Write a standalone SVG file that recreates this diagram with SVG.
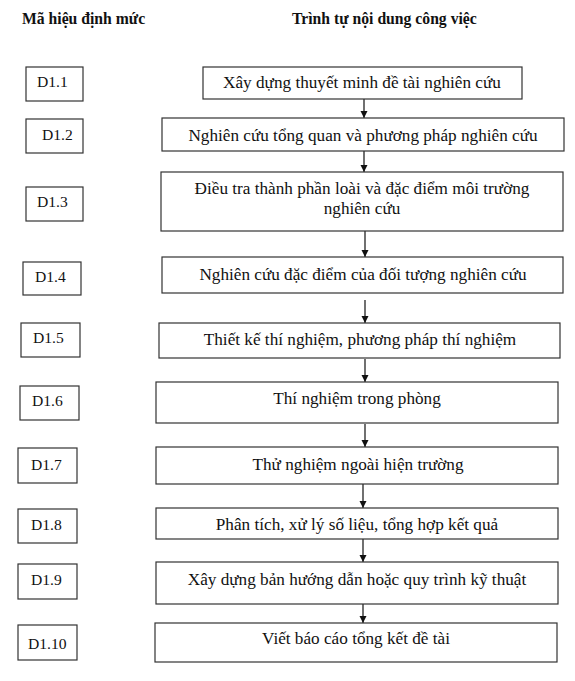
<svg xmlns="http://www.w3.org/2000/svg" width="575" height="681" viewBox="0 0 575 681">
<style>
.bx{fill:#fff;stroke:#333;stroke-width:1.2}
.t{font-family:"Liberation Serif","Times New Roman",serif;font-size:17.2px;fill:#111}
.l{font-family:"Liberation Serif","Times New Roman",serif;font-size:15.6px;fill:#111}
.c{text-anchor:middle}
.h{font-family:"Liberation Serif","Times New Roman",serif;font-size:15.7px;font-weight:bold;fill:#111}
.ar{stroke:#111;stroke-width:1.2;fill:none;marker-end:url(#ah)}
</style>
<defs>
<marker id="ah" markerUnits="userSpaceOnUse" markerWidth="8" markerHeight="8" refX="7" refY="3.5" orient="auto">
<path d="M0,0 L7,3.5 L0,7 z" fill="#111"/>
</marker>
</defs>
<rect width="575" height="681" fill="#fff"/>
<g id="headers">
<text class="h" x="22" y="24">Mã hiệu định mức</text>
<text class="h" x="292" y="24">Trình tự nội dung công việc</text>
</g>
<g id="codes">
<g id="c1"><rect class="bx" x="26" y="67" width="57" height="34"/><text class="l" x="37" y="87">D1.1</text></g>
<g id="c2"><rect class="bx" x="26" y="119" width="57" height="34"/><text class="l" x="42" y="140">D1.2</text></g>
<g id="c3"><rect class="bx" x="26" y="187" width="57" height="34"/><text class="l" x="37" y="207">D1.3</text></g>
<g id="c4"><rect class="bx" x="23" y="262" width="58" height="33"/><text class="l" x="35" y="282">D1.4</text></g>
<g id="c5"><rect class="bx" x="21" y="323" width="59" height="34"/><text class="l" x="33" y="343">D1.5</text></g>
<g id="c6"><rect class="bx" x="20" y="386" width="59" height="34"/><text class="l" x="32" y="406">D1.6</text></g>
<g id="c7"><rect class="bx" x="18" y="448" width="59" height="35"/><text class="l" x="31" y="470">D1.7</text></g>
<g id="c8"><rect class="bx" x="18" y="509" width="59" height="34"/><text class="l" x="31" y="530">D1.8</text></g>
<g id="c9"><rect class="bx" x="18" y="564" width="59" height="35"/><text class="l" x="31" y="585">D1.9</text></g>
<g id="c10"><rect class="bx" x="18" y="625" width="59" height="35"/><text class="l" x="28" y="649">D1.10</text></g>
</g>
<g id="connectors">
<line class="ar" x1="364" y1="99" x2="364" y2="118"/>
<line class="ar" x1="364" y1="151" x2="364" y2="172"/>
<line class="ar" x1="365" y1="231" x2="365" y2="257"/>
<line class="ar" x1="365" y1="300" x2="365" y2="323"/>
<line class="ar" x1="365" y1="359" x2="365" y2="382"/>
<line class="ar" x1="365" y1="424" x2="365" y2="447"/>
<line class="ar" x1="363" y1="484" x2="363" y2="508"/>
<line class="ar" x1="363" y1="539" x2="363" y2="562"/>
<line class="ar" x1="363" y1="604" x2="363" y2="623"/>
</g>
<g id="s1"><rect class="bx" x="203" y="67" width="319" height="32"/><text class="t c" x="362" y="88">Xây dựng thuyết minh đề tài nghiên cứu</text></g>
<g id="s2"><rect class="bx" x="162" y="118" width="402" height="33"/><text class="t c" x="363" y="141">Nghiên cứu tổng quan và phương pháp nghiên cứu</text></g>
<g id="s3"><rect class="bx" x="161" y="172" width="402" height="59"/><text class="t c" x="362" y="194">Điều tra thành phần loài và đặc điểm môi trường</text><text class="t c" x="362" y="214">nghiên cứu</text></g>
<g id="s4"><rect class="bx" x="162" y="257" width="401" height="36"/><text class="t c" x="363" y="280">Nghiên cứu đặc điểm của đối tượng nghiên cứu</text></g>
<g id="s5"><rect class="bx" x="159" y="323" width="401" height="35"/><text class="t c" x="360" y="345">Thiết kế thí nghiệm, phương pháp thí nghiệm</text></g>
<g id="s6"><rect class="bx" x="156" y="382" width="402" height="41"/><text class="t c" x="357" y="404">Thí nghiệm trong phòng</text></g>
<g id="s7"><rect class="bx" x="156" y="447" width="402" height="37"/><text class="t c" x="358" y="470">Thử nghiệm ngoài hiện trường</text></g>
<g id="s8"><rect class="bx" x="156" y="508" width="402" height="31"/><text class="t c" x="357" y="530">Phân tích, xử lý số liệu, tổng hợp kết quả</text></g>
<g id="s9"><rect class="bx" x="156" y="562" width="402" height="42"/><text class="t c" x="357" y="585">Xây dựng bản hướng dẫn hoặc quy trình kỹ thuật</text></g>
<g id="s10"><rect class="bx" x="155" y="623" width="402" height="39"/><text class="t c" x="356" y="644">Viết báo cáo tổng kết đề tài</text></g>
</svg>
